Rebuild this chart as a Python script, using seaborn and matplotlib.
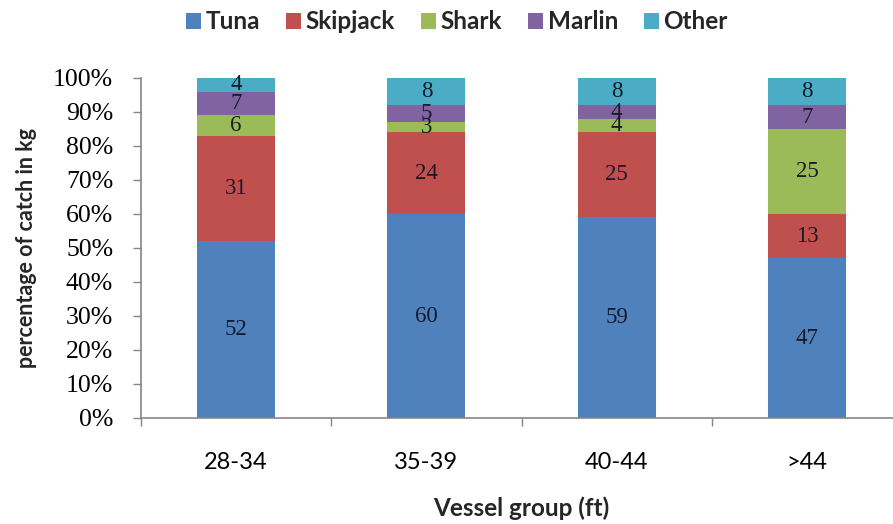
import numpy as np
import pandas as pd
import matplotlib
matplotlib.use("Agg")
import matplotlib.pyplot as plt
import seaborn as sns
from matplotlib.patches import Patch

# Catch composition (% of weight) per vessel length group
groups = ["28-34", "35-39", "40-44", ">44"]
species = ["Tuna", "Skipjack", "Shark", "Marlin", "Other"]
tuna = [52, 60, 59, 47]
skipjack = [31, 24, 25, 13]
shark = [6, 3, 4, 25]
marlin = [7, 5, 4, 7]
other = [4, 8, 8, 8]
y_ticks = [0, 10, 20, 30, 40, 50, 60, 70, 80, 90, 100]

colors = ["#4F81BD", "#C0504D", "#9BBB59", "#8064A2", "#4BACC6"]
axis_grey = "#868686"
sans = ["Lato", "DejaVu Sans"]
serif = ["Liberation Serif", "DejaVu Serif"]

sns.set_theme(style="white")
plt.rcParams["font.family"] = sans

W, H = 893, 524
fig = plt.figure(figsize=(W / 100, H / 100), dpi=100)
ax = fig.add_axes([141 / W, 1 - 418 / H, (902 - 141) / W, 340 / H])

values = np.array([tuna, skipjack, shark, marlin, other])
tops = values.cumsum(axis=0)

# Stack by overdrawing cumulative totals, tallest first
for i in reversed(range(len(species))):
    df = pd.DataFrame({"group": groups, "top": tops[i]})
    sns.barplot(data=df, x="group", y="top", color=colors[i], saturation=1,
                width=0.41, linewidth=0, ax=ax)

# Segment value labels
for i in range(len(species)):
    for j, g in enumerate(groups):
        v = values[i, j]
        ax.text(j, tops[i, j] - v / 2, f"{v}", ha="center", va="center",
                fontsize=16.5, family=serif, color="#1a1a2a")

ax.set_xlim(-0.5, 3.5)
ax.set_ylim(0, 100)
ax.set_yticks(y_ticks)
ax.set_yticklabels([f"{t}%" for t in y_ticks], family=serif, fontsize=18.5)
ax.set_xticks(range(len(groups)))
ax.set_xticklabels(groups, fontsize=17)
ax.set_xticks(np.arange(-0.5, 4.0, 1.0), minor=True)

for s in ["top", "right"]:
    ax.spines[s].set_visible(False)
for s in ["left", "bottom"]:
    ax.spines[s].set_color(axis_grey)
    ax.spines[s].set_linewidth(1.2)

ax.tick_params(axis="y", which="major", direction="out", length=6, width=1,
               color=axis_grey, pad=14, left=True, labelcolor="black")
ax.tick_params(axis="x", which="major", length=0, pad=24.5, labelcolor="black")
ax.tick_params(axis="x", which="minor", direction="out", length=6, width=1,
               color=axis_grey, bottom=True)

ax.set_xlabel("")
ax.set_ylabel("")
fig.text(521 / W, 1 - 508 / H, "Vessel group (ft)", ha="center", va="center",
         fontsize=17.5, fontweight="bold")
fig.text(27 / W, 1 - 248 / H, "percentage of catch in kg", ha="center",
         va="center", rotation=90, fontsize=15.5, fontweight="bold")

handles = [Patch(facecolor=c, edgecolor="none", label=s)
           for c, s in zip(colors, species)]
fig.legend(handles=handles, loc="center", bbox_to_anchor=(457 / W, 1 - 22 / H),
           ncol=5, frameon=False, prop={"family": sans, "weight": "bold", "size": 17.5},
           handlelength=0.62, handleheight=0.62, handletextpad=0.2,
           columnspacing=1.05)

fig.savefig("out.png", dpi=100)
